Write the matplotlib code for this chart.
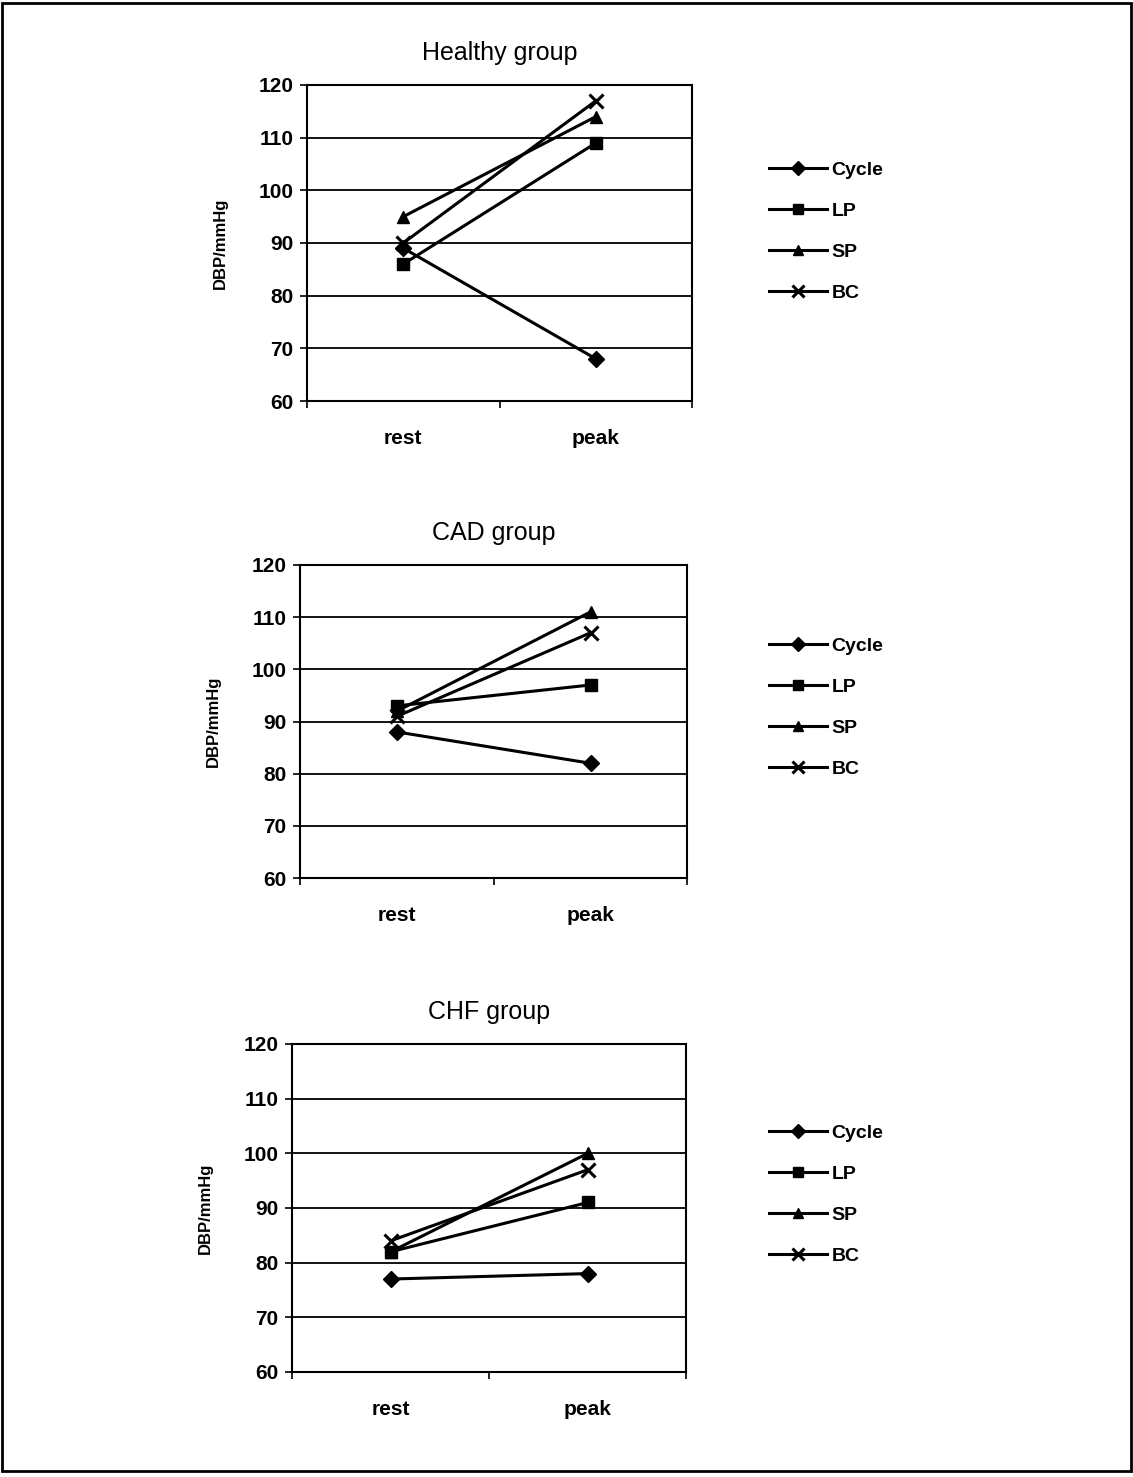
import matplotlib.pyplot as plt
from matplotlib.patches import Rectangle

plt.rcParams['font.family'] = ['Liberation Sans', 'DejaVu Sans']

# data
phases = ["rest", "peak"]
series = ["Cycle", "LP", "SP", "BC"]
markers = ["D", "s", "^", "x"]

groups = ["Healthy group", "CAD group", "CHF group"]
healthy = {"Cycle": [89, 68], "LP": [86, 109], "SP": [95, 114], "BC": [90, 117]}
cad = {"Cycle": [88, 82], "LP": [93, 97], "SP": [92, 111], "BC": [91, 107]}
chf = {"Cycle": [77, 78], "LP": [82, 91], "SP": [82, 100], "BC": [84, 97]}
all_values = [healthy, cad, chf]

yticks = [60, 70, 80, 90, 100, 110, 120]

fig = plt.figure(figsize=(11.33, 14.77), dpi=100)

# axes boxes [left, bottom, width, height] in figure fractions
boxes = [
    [0.271, 0.7285, 0.340, 0.214],
    [0.265, 0.4055, 0.3416, 0.212],
    [0.258, 0.0711, 0.3478, 0.2221],
]
legend_y = [0.843, 0.521, 0.191]

for title, vals, box, ly in zip(groups, all_values, boxes, legend_y):
    ax = fig.add_axes(box)
    handles = []
    for name, m in zip(series, markers):
        ms = 8 if m != "x" else 10
        h, = ax.plot(range(len(phases)), vals[name], color="black", lw=2.2,
                     marker=m, markersize=ms, markeredgewidth=2.2 if m == "x" else 1,
                     label=name)
        handles.append(h)
    ax.set_xlim(-0.5, 1.5)
    ax.set_ylim(60, 120)
    ax.set_yticks(yticks)
    ax.set_xticks(range(len(phases)))
    ax.set_xticklabels(phases)
    ax.set_xticks([-0.5, 0.5, 1.5], minor=True)
    ax.tick_params(axis="x", which="major", length=0, pad=20)
    ax.tick_params(axis="x", which="minor", length=5, width=1.2, direction="out")
    ax.tick_params(axis="y", length=5, width=1.2, direction="out", pad=5)
    for lab in ax.get_xticklabels() + ax.get_yticklabels():
        lab.set_fontsize(15)
        lab.set_fontweight("bold")
    ax.yaxis.grid(True, color="black", lw=1.3)
    ax.set_axisbelow(True)
    for s in ax.spines.values():
        s.set_linewidth(1.5)
    ax.set_ylabel("DBP/mmHg", fontsize=12, fontweight="bold", labelpad=22)
    ax.set_title(title, fontsize=18, pad=18)
    fig.legend(handles=handles, loc="center left", bbox_to_anchor=(0.672, ly),
               frameon=False, prop={"weight": "bold", "size": 14},
               handlelength=3.0, handletextpad=0.2, labelspacing=1.2,
               markerscale=0.85, borderaxespad=0)

# outer frame around the whole figure
fig.patches.append(Rectangle((0.002, 0.004), 0.996, 0.994, transform=fig.transFigure,
                             fill=False, edgecolor="black", lw=2))

fig.savefig("out.png", dpi=100)
